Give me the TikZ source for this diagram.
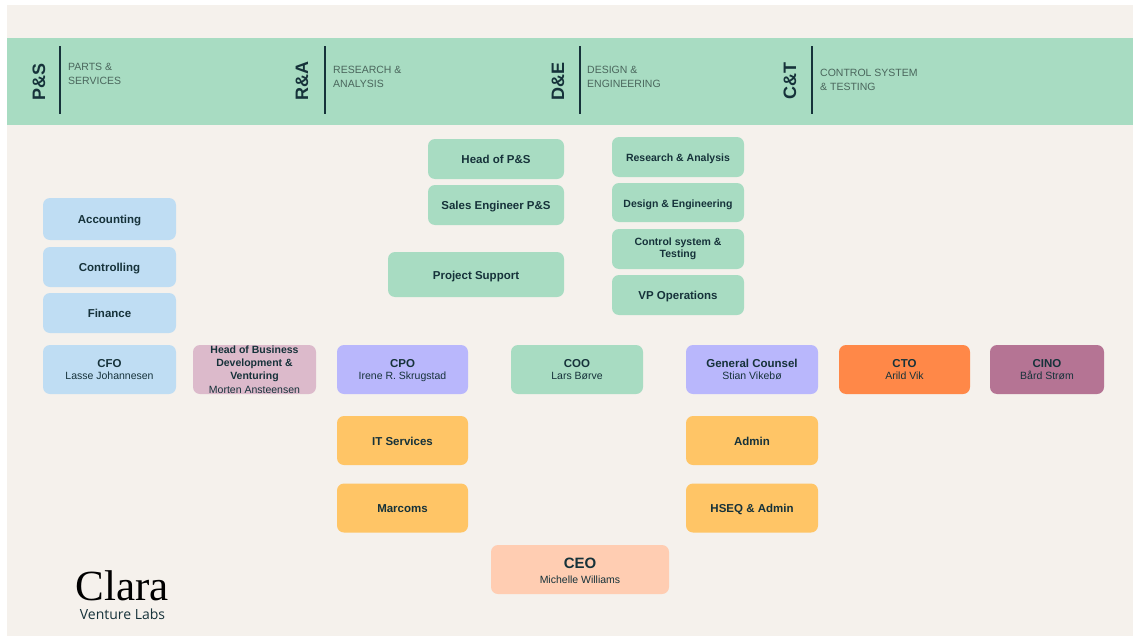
\documentclass[tikz,border=0pt]{standalone}
\usepackage{fontspec}
\setmainfont{Liberation Sans}
\newfontfamily\claraserif{Liberation Serif}
\newfontfamily\claralabel{Open Sans}
\definecolor{pagebg}{HTML}{F5F1EC}
\definecolor{mint}{HTML}{A8DCC2}
\definecolor{sky}{HTML}{BFDDF3}
\definecolor{rosy}{HTML}{DCBACB}
\definecolor{lilac}{HTML}{B9B7FC}
\definecolor{amber}{HTML}{FFC566}
\definecolor{peach}{HTML}{FFCDB2}
\definecolor{tangerine}{HTML}{FF8848}
\definecolor{plum}{HTML}{B57494}
\definecolor{ink}{HTML}{16323A}
\definecolor{bandtext}{HTML}{4A665C}
\newcommand{\tbold}[1]{{\fontsize{11.5}{13}\selectfont\bfseries #1}}
\newcommand{\tsmallbold}[1]{{\fontsize{10.5}{12.5}\selectfont\bfseries #1}}
\newcommand{\tname}[1]{{\fontsize{10.5}{12}\selectfont\mdseries #1}}
\tikzset{
  x=1pt,y=-1pt,
  orgbox/.style={rounded corners=7pt,text=ink,align=center,inner sep=0pt,outer sep=0pt,
    font=\fontsize{11.5}{13}\selectfont\bfseries},
  oneline/.style={text height=13pt,text depth=4pt},
  mintbox/.style={orgbox,oneline,fill=mint,minimum width=132pt,minimum height=40pt},
  skybox/.style={orgbox,oneline,fill=sky,minimum width=133pt},
  rowbox/.style={orgbox,minimum width=132pt,minimum height=49pt},
  amberbox/.style={rowbox,oneline,fill=amber},
  bandhead/.style={rotate=90,text=ink,inner sep=0pt,font=\fontsize{18}{20}\selectfont\bfseries},
  bandnote/.style={anchor=west,align=left,text=bandtext,inner sep=0pt,font=\fontsize{10.5}{13.5}\selectfont},
  bandrule/.style={draw=ink,line width=1.3pt},
}
\begin{document}
\begin{tikzpicture}
\useasboundingbox (0,0) rectangle (1133,637);
\fill[white] (0,0) rectangle (1133,637);
\fill[pagebg] (7,5) rectangle (1133,636);
\fill[mint] (7,38) rectangle (1133,125);

% band
\node[bandhead] (ps) at (39,82) {P\&S};
\coordinate (pstop) at (60,46); \coordinate (psbot) at (60,114);
\draw[bandrule] (pstop) -- (psbot);
\node[bandnote] (psn) at (68,74) {PARTS \&\\SERVICES};

\node[bandhead] (ra) at (302,81) {R\&A};
\coordinate (ratop) at (325,46); \coordinate (rabot) at (325,114);
\draw[bandrule] (ratop) -- (rabot);
\node[bandnote] (ran) at (333,77) {RESEARCH \&\\ANALYSIS};

\node[bandhead] (de) at (558,81) {D\&E};
\coordinate (detop) at (580,46); \coordinate (debot) at (580,114);
\draw[bandrule] (detop) -- (debot);
\node[bandnote] (den) at (587,77) {DESIGN \&\\ENGINEERING};

\node[bandhead] (ct) at (790,81) {C\&T};
\coordinate (cttop) at (812,46); \coordinate (ctbot) at (812,114);
\draw[bandrule] (cttop) -- (ctbot);
\node[bandnote] (ctn) at (820,80) {CONTROL SYSTEM\\\& TESTING};

% mint stacks
\node[mintbox,minimum width=136pt] (headps) at (496,159) {Head of P\&S};
\node[mintbox,minimum width=136pt] (sales) at (496,205) {Sales Engineer P\&S};
\node[mintbox,minimum width=176pt,minimum height=45pt] (project) at (476,274.5) {Project Support};

\node[mintbox,font=\fontsize{10.5}{12.5}\selectfont\bfseries] (research) at (678,157) {Research \& Analysis};
\node[mintbox,minimum height=39pt,font=\fontsize{10.5}{12.5}\selectfont\bfseries] (design) at (678,202.5) {Design \& Engineering};
\node[orgbox,fill=mint,minimum width=132pt,minimum height=40pt,font=\fontsize{10.5}{12.5}\selectfont\bfseries] (control) at (678,249) {Control system \&\\Testing};
\node[mintbox] (vp) at (678,295) {VP Operations};

% finance stack
\node[skybox,minimum height=42pt] (accounting) at (109.5,219) {Accounting};
\node[skybox,minimum height=40pt] (controlling) at (109.5,267) {Controlling};
\node[skybox,minimum height=40pt] (finance) at (109.5,313) {Finance};

% exec row
\node[rowbox,fill=sky,minimum width=133pt] (cfo) at (109.5,369.5) {\tbold{CFO}\\[-1.5pt]\tname{Lasse Johannesen}};
\node[rowbox,fill=rosy,minimum width=123pt] (bizdev) at (254.5,369.5) {\tsmallbold{Head of Business}\\[0pt]\tsmallbold{Development \&}\\[0pt]\tsmallbold{Venturing}\\[0.5pt]\tname{Morten Ansteensen}};
\node[rowbox,fill=lilac,minimum width=131pt,text depth=0pt] (cpo) at (402.5,369.5) {\tbold{CPO}\\[-1.5pt]\tname{Irene R. Skrugstad}};
\node[rowbox,fill=mint] (coo) at (577,369.5) {\tbold{COO}\\[-1.5pt]\tname{Lars Børve}};
\node[rowbox,fill=lilac] (gc) at (752,369.5) {\tbold{General Counsel}\\[-1.5pt]\tname{Stian Vikebø}};
\node[rowbox,fill=tangerine,minimum width=131pt] (cto) at (904.5,369.5) {\tbold{CTO}\\[-1.5pt]\tname{Arild Vik}};
\node[rowbox,fill=plum,minimum width=114pt] (cino) at (1047,369.5) {\tbold{CINO}\\[-1.5pt]\tname{Bård Strøm}};

% amber boxes
\node[amberbox,minimum width=131pt] (it) at (402.5,440.5) {IT Services};
\node[amberbox,minimum width=131pt] (marcoms) at (402.5,508) {Marcoms};
\node[amberbox] (admin) at (752,440.5) {Admin};
\node[amberbox] (hseq) at (752,508) {HSEQ \& Admin};

% CEO
\node[rowbox,fill=peach,minimum width=178pt] (ceo) at (580,569.5) {\rule{0pt}{13pt}{\fontsize{15}{16}\selectfont\bfseries CEO}\\[1.5pt]\tname{Michelle Williams}};

% logo
\node[inner sep=0pt,text=black,font=\claraserif\fontsize{43}{44}\selectfont] (clara) at (122.5,585.5) {Clara};
\node[inner sep=0pt,text=ink,font=\claralabel\fontsize{14}{15}\selectfont] (labs) at (122.5,614) {Venture Labs};
\end{tikzpicture}
\end{document}
